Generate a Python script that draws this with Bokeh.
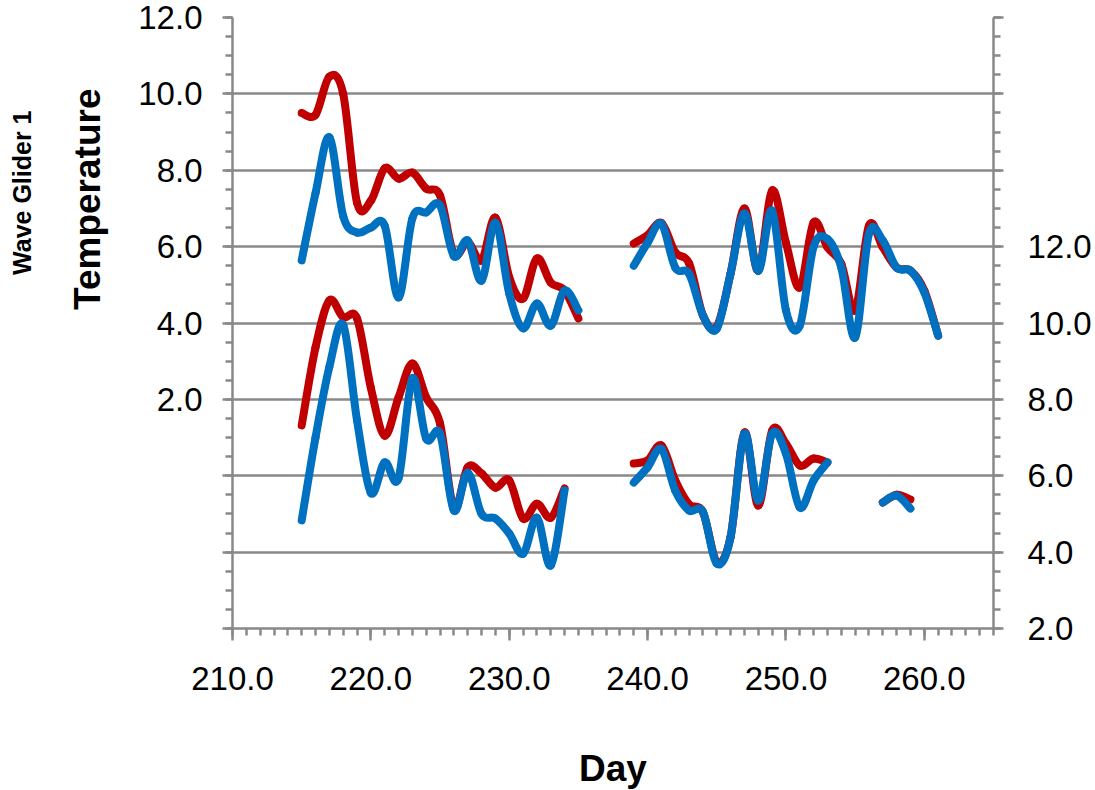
from bokeh.plotting import figure
from bokeh.models import (Range1d, LinearAxis, FixedTicker, CustomJSTickFormatter,
                          NumeralTickFormatter, ColumnDataSource, Title)
from bokeh.embed import file_html
from bokeh.resources import INLINE

# ---------------- data ----------------
days_a = list(range(215, 236))          # first upper segment (left axis)
upper_red_a = [9.5, 9.45, 10.45, 10.0, 7.15, 7.2, 8.05, 7.78, 7.94, 7.52, 7.34,
               5.8, 6.12, 5.64, 6.76, 5.2, 4.64, 5.69, 5.06, 4.85, 4.12]
upper_blue_a = [5.64, 7.4, 8.86, 6.8, 6.37, 6.5, 6.55, 4.67, 6.74, 6.9, 7.08,
                5.75, 6.16, 5.11, 6.63, 4.77, 3.86, 4.51, 3.93, 4.85, 4.33]

days_b = list(range(239, 262))          # second upper segment (left axis)
upper_red_b = [6.08, 6.3, 6.62, 5.85, 5.56, 4.2, 3.9, 5.3, 7.0, 5.37, 7.47, 6.1,
               4.93, 6.63, 5.98, 5.55, 4.33, 6.55, 5.98, 5.45, 5.37, 4.85, 3.67]
upper_blue_b = [5.5, 6.1, 6.6, 5.45, 5.29, 4.2, 3.85, 5.3, 6.87, 5.37, 6.94, 4.33,
                3.93, 6.0, 6.2, 5.45, 3.62, 6.34, 6.16, 5.45, 5.37, 4.8, 3.67]

days_c = list(range(215, 235))          # first lower segment (right axis)
lower_red_c = [7.32, 9.36, 10.59, 10.15, 10.12, 8.3, 7.05, 8.05, 8.94, 8.05, 7.37,
               5.15, 6.22, 6.06, 5.69, 5.88, 4.88, 5.27, 4.9, 5.67]
lower_blue_c = [4.83, 7.0, 8.85, 9.95, 7.45, 5.55, 6.35, 5.93, 8.55, 6.97, 7.1,
                5.09, 6.08, 5.0, 4.88, 4.49, 3.96, 4.9, 3.65, 5.62]

days_d = list(range(239, 254))          # second lower segment (right axis)
lower_red_d = [6.32, 6.4, 6.79, 5.88, 5.25, 5.05, 3.75, 4.4, 7.13, 5.22, 7.18,
               6.84, 6.27, 6.45, 6.35]
lower_blue_d = [5.82, 6.22, 6.7, 5.61, 5.09, 5.05, 3.7, 4.4, 7.1, 5.35, 7.1,
                6.58, 5.17, 5.88, 6.35]

days_e = [257, 258, 259]                # third lower segment (right axis)
lower_red_e = [5.3, 5.5, 5.38]
lower_blue_e = [5.3, 5.48, 5.14]

left_ticks = [-4, -2, 0, 2, 4, 6, 8, 10, 12]
right_ticks = [2, 4, 6, 8, 10, 12, 14, 16, 18]
x_ticks = [210, 220, 230, 240, 250, 260]

RED = "#C00000"
BLUE = "#0070C0"
GRID = "#898989"
FONT = "Liberation Sans"


def smooth_source(xs, ys):
    """Bezier control points (Catmull-Rom style, like spreadsheet smoothed lines)."""
    n = len(xs)
    d = dict(x0=[], y0=[], x1=[], y1=[], cx0=[], cy0=[], cx1=[], cy1=[])
    for i in range(n - 1):
        xp, yp = (xs[i - 1], ys[i - 1]) if i > 0 else (xs[i], ys[i])
        xn, yn = (xs[i + 2], ys[i + 2]) if i + 2 < n else (xs[i + 1], ys[i + 1])
        d["x0"].append(xs[i]); d["y0"].append(ys[i])
        d["x1"].append(xs[i + 1]); d["y1"].append(ys[i + 1])
        d["cx0"].append(xs[i] + (xs[i + 1] - xp) / 6.0)
        d["cy0"].append(ys[i] + (ys[i + 1] - yp) / 6.0)
        d["cx1"].append(xs[i + 1] - (xn - xs[i]) / 6.0)
        d["cy1"].append(ys[i + 1] - (yn - ys[i]) / 6.0)
    return ColumnDataSource(d)


p = figure(frame_width=761, frame_height=611,
           x_range=Range1d(210, 265), y_range=Range1d(-4, 12),
           output_backend="svg", toolbar_location=None,
           min_border_left=232, min_border_right=92, min_border_top=17,
           min_border_bottom=150, background_fill_color="white",
           border_fill_color="white")
p.outline_line_color = None
p.extra_y_ranges = {"right": Range1d(2, 18)}

# grid
p.xgrid.visible = False
p.ygrid.ticker = FixedTicker(ticks=left_ticks)
p.ygrid.grid_line_color = GRID
p.ygrid.grid_line_width = 2.5


def style_axis(ax):
    ax.axis_line_color = GRID
    ax.axis_line_width = 2.5
    ax.major_tick_line_color = GRID
    ax.major_tick_line_width = 2.5
    ax.minor_tick_line_color = GRID
    ax.minor_tick_line_width = 2.5
    ax.major_tick_in = 0
    ax.minor_tick_in = 0
    ax.major_label_text_font = FONT
    ax.major_label_text_font_size = "33px"
    ax.major_label_text_color = "black"


# x axis
xa = p.xaxis[0]
style_axis(xa)
xa.ticker = FixedTicker(ticks=x_ticks, minor_ticks=list(range(210, 266)))
xa.formatter = NumeralTickFormatter(format="0.0")
xa.major_tick_out = 12
xa.minor_tick_out = 7
xa.major_label_standoff = 26
xa.axis_label = "Day"
xa.axis_label_text_font = FONT
xa.axis_label_text_font_style = "bold"
xa.axis_label_text_font_size = "37px"
xa.axis_label_text_color = "black"
xa.axis_label_standoff = 55

# left axis
ya = p.yaxis[0]
style_axis(ya)
ya.ticker = FixedTicker(ticks=left_ticks,
                        minor_ticks=[v / 2 for v in range(-8, 25)])
ya.formatter = CustomJSTickFormatter(
    code="return (tick >= 2 && tick <= 12) ? tick.toFixed(1) : '';")
ya.major_tick_out = 10
ya.minor_tick_out = 7
ya.major_label_standoff = 20
ya.major_label_orientation = "horizontal"

# right axis
ra = LinearAxis(y_range_name="right")
style_axis(ra)
ra.ticker = FixedTicker(ticks=right_ticks,
                        minor_ticks=[v / 2 for v in range(4, 37)])
ra.formatter = CustomJSTickFormatter(
    code="return (tick >= 2 && tick <= 12) ? tick.toFixed(1) : '';")
ra.major_tick_out = 10
ra.minor_tick_out = 7
ra.major_label_standoff = 24
p.add_layout(ra, "right")

# vertical titles on the left
p.add_layout(Title(text="Temperature", align="right", offset=71, standoff=56,
                   text_font=FONT, text_font_style="bold",
                   text_font_size="37px", text_color="black"), "left")
p.add_layout(Title(text="Wave Glider 1", align="right", offset=93, standoff=0,
                   vertical_align="middle",
                   text_font=FONT, text_font_style="bold",
                   text_font_size="25px", text_color="black"), "left")


# series
def draw(xs, ys, color, rng=None):
    src = smooth_source(xs, ys)
    kw = {} if rng is None else {"y_range_name": rng}
    p.bezier(x0="x0", y0="y0", x1="x1", y1="y1", cx0="cx0", cy0="cy0",
             cx1="cx1", cy1="cy1", source=src, line_color=color,
             line_width=8, line_cap="round", **kw)


draw(days_a, upper_red_a, RED)
draw(days_b, upper_red_b, RED)
draw(days_a, upper_blue_a, BLUE)
draw(days_b, upper_blue_b, BLUE)
draw(days_c, lower_red_c, RED, "right")
draw(days_d, lower_red_d, RED, "right")
draw(days_e, lower_red_e, RED, "right")
draw(days_c, lower_blue_c, BLUE, "right")
draw(days_d, lower_blue_d, BLUE, "right")
draw(days_e, lower_blue_e, BLUE, "right")

open("out.html", "w").write(file_html(p, INLINE))
